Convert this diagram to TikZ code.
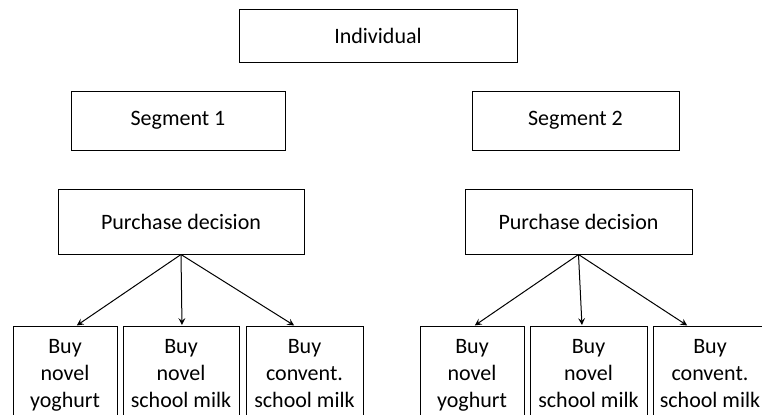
\documentclass[tikz,border=0pt]{standalone}
\usepackage{fontspec}
\setmainfont{Carlito}
\usetikzlibrary{arrows}
\tikzset{
	box/.style={draw, line width=0.5pt, align=center, inner sep=0pt, font=\fontsize{11}{13.5}\selectfont},
	leaf/.style={box, anchor=north, inner xsep=2pt, inner ysep=6.4pt},
	arr/.style={->, >=stealth, line width=0.5pt, shorten >=0.5pt}
}
\begin{document}
\begin{tikzpicture}[x=0.5pt,y=-0.5pt]
	\useasboundingbox (0,0) rectangle (762,414);
	\clip (0,0) rectangle (762,414);
	\node[box, minimum width=139pt, minimum height=26.5pt] (ind) at (378,35.5) {Individual};% top box
	\node[box, minimum width=107pt, minimum height=29.5pt] (seg1) at (178,120.5) {Segment 1};
	\node[box, minimum width=103.5pt, minimum height=29.5pt] (seg2) at (575.5,120.5) {Segment 2};
	\node[box, minimum width=123pt, minimum height=32.5pt] (pd1) at (181,221.5) {Purchase decision};
	\node[box, minimum width=113.5pt, minimum height=32.5pt] (pd2) at (578.5,221.5) {Purchase decision};
	% choices of segment 1
	\node[leaf, minimum width=52pt] (yog1) at (65,326) {Buy\\novel\\yoghurt};
	\node[leaf, minimum width=58pt] (nov1) at (181,326) {Buy\\novel\\school milk};
	\node[leaf, minimum width=58.5pt] (con1) at (304.5,326) {Buy\\convent.\\school milk};
	% choices of segment 2
	\node[leaf, minimum width=52pt] (yog2) at (472,326) {Buy\\novel\\yoghurt};
	\node[leaf, minimum width=58.5pt] (nov2) at (588.5,326) {Buy\\novel\\school milk};
	\node[leaf, minimum width=57pt] (con2) at (710,326) {Buy\\convent.\\school milk};
	\draw[arr] (pd1.south) -- ([xshift=5.5pt]yog1.north);
	\draw[arr] (pd1.south) -- ([xshift=0.5pt]nov1.north);
	\draw[arr] (pd1.south) -- ([xshift=-4.75pt]con1.north);
	\draw[arr] (pd2.south) -- ([xshift=1pt]yog2.north);
	\draw[arr] (pd2.south) -- ([xshift=-3.25pt]nov2.north);
	\draw[arr] (pd2.south) -- ([xshift=-11pt]con2.north);
\end{tikzpicture}
\end{document}
